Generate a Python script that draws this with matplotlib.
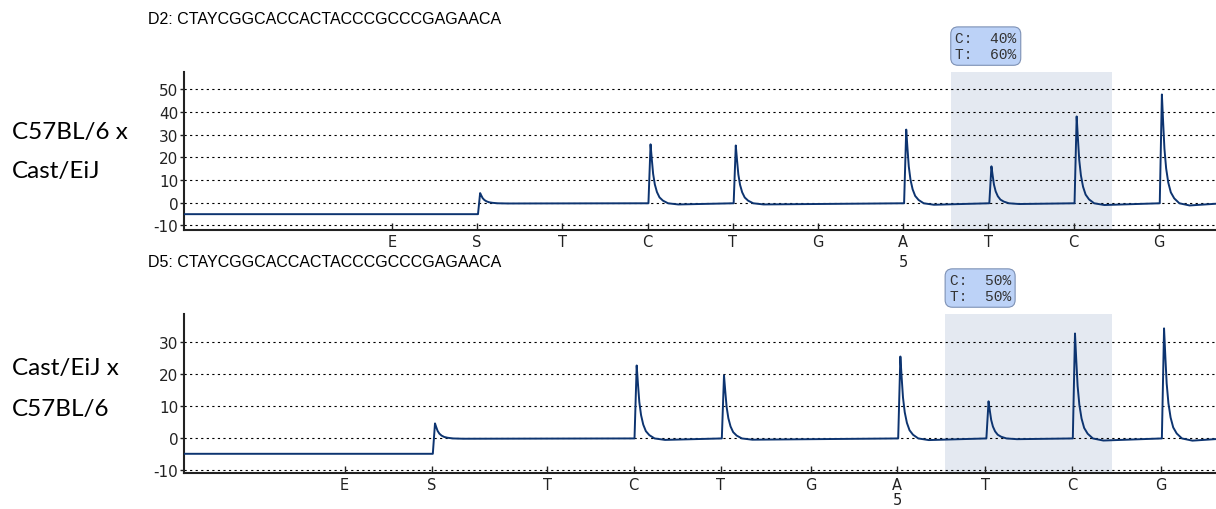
import matplotlib
matplotlib.use("Agg")
import matplotlib.pyplot as plt

plt.rcParams['axes.unicode_minus'] = False

# dispensation order and peak heights
disp = ['E', 'S', 'T', 'C', 'T', 'G', 'A', 'T', 'C', 'G']
top_times = [0, 1, 2, 3, 4, 5, 6, 7, 8, 9]
top_heights = [0, 4.5, 0, 26, 25.5, 0, 32.5, 16.3, 38.3, 48]
bot_times = [0, 1.0, 2.32, 3.31, 4.31, 5.34, 6.33, 7.34, 8.33, 9.35]
bot_heights = [0, 4.7, 0, 22.8, 19.7, 0, 25.6, 11.6, 32.8, 34.4]

top_title = "D2: CTAYCGGCACCACTACCCGCCCGAGAACA"
bot_title = "D5: CTAYCGGCACCACTACCCGCCCGAGAACA"
top_result = "C:  40%\nT:  60%"
bot_result = "C:  50%\nT:  50%"
top_label = ["C57BL/6 x", "Cast/EiJ"]
bot_label = ["Cast/EiJ x", "C57BL/6"]

# shape of a single peak (offset after dispensation, fraction of height)
peak_off = [0.01, 0.035, 0.05, 0.065, 0.085, 0.11, 0.14, 0.18, 0.24, 0.36]
peak_frac = [0, 1.0, 0.74, 0.5, 0.32, 0.19, 0.1, 0.045, 0.0, -0.02]

line_col = '#0d3470'


def build_trace(times, heights, x0, x1):
    xs = [x0, times[1]]
    ys = [-5, -5]
    for t, h in zip(times[1:], heights[1:]):
        if h <= 0:
            continue
        for k, (o, f) in enumerate(zip(peak_off, peak_frac)):
            xs.append(t + o)
            if k == 0 and t == times[1]:
                ys.append(-5)
            else:
                ys.append(h * f - 0.2)
    xs.append(x1)
    ys.append(-0.4)
    return xs, ys


def draw_panel(ax, times, heights, xlim, ylim, yticks, shade, result, five_y):
    ax.axvspan(shade[0], shade[1], color='#e4e9f1', lw=0, zorder=0)
    for yv in yticks:
        ax.axhline(yv, color='black', lw=0.8, ls=(0, (2, 3)), zorder=1)
    xs, ys = build_trace(times, heights, xlim[0], xlim[1])
    ax.plot(xs, ys, color=line_col, lw=1.4, zorder=3)
    ax.set_xlim(*xlim)
    ax.set_ylim(*ylim)
    ax.set_yticks(yticks)
    ax.set_xticks(times)
    ax.set_xticklabels(disp)
    ax.tick_params(axis='x', direction='in', length=5, width=1, labelsize=10.5, pad=3,
                   colors='#222222')
    ax.tick_params(axis='y', direction='out', length=3, width=1, labelsize=11, pad=1,
                   colors='#222222')
    for s in ['top', 'right']:
        ax.spines[s].set_visible(False)
    for s in ['left', 'bottom']:
        ax.spines[s].set_linewidth(1.5)
        ax.spines[s].set_color('#222222')
    ax.annotate(result, xy=(shade[0], 1.0), xycoords=('data', 'axes fraction'),
                xytext=(3, 8), textcoords='offset points', ha='left', va='bottom',
                family='Liberation Mono', fontsize=10.5, color='#333333', linespacing=1.15,
                bbox=dict(boxstyle='round,pad=0.3,rounding_size=0.5', fc='#bcd2f7',
                          ec='#7d91b5', lw=0.8))
    ax.text(times[6], five_y, '5', transform=ax.get_xaxis_transform(),
            ha='center', va='center', fontsize=10.5, color='#222222')


fig = plt.figure(figsize=(12.16, 5.10), dpi=100)
ax1 = fig.add_axes([0.1513, 0.547, 0.8487, 0.3098])
ax2 = fig.add_axes([0.1513, 0.0706, 0.8487, 0.3118])

draw_panel(ax1, top_times, top_heights, (-2.44, 9.67), (-12, 57.7),
           [-10, 0, 10, 20, 30, 40, 50], (6.56, 8.45), top_result, -0.2)
draw_panel(ax2, bot_times, bot_heights, (-1.84, 9.98), (-11, 38.7),
           [-10, 0, 10, 20, 30], (6.88, 8.79), bot_result, -0.165)

fig.text(0.1217, 0.9627, top_title, family='Liberation Sans', fontsize=11.5, va='center')
fig.text(0.1217, 0.486, bot_title, family='Liberation Sans', fontsize=11.5, va='center')

fig.text(0.0099, 0.741, top_label[0], family='Lato', fontsize=17.5, va='center')
fig.text(0.0099, 0.663, top_label[1], family='Lato', fontsize=17.5, va='center')
fig.text(0.0099, 0.278, bot_label[0], family='Lato', fontsize=17.5, va='center')
fig.text(0.0099, 0.198, bot_label[1], family='Lato', fontsize=17.5, va='center')

fig.savefig('out.png', dpi=100)
